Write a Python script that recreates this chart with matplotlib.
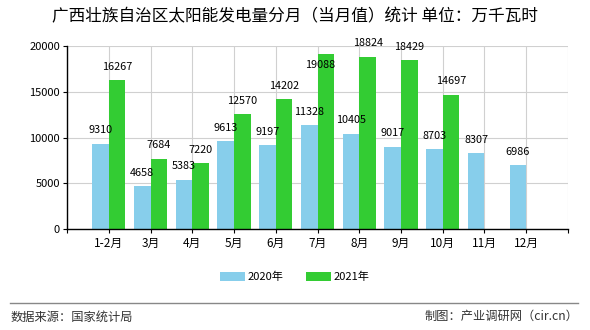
import matplotlib.pyplot as plt
import numpy as np

plt.rcParams['font.family'] = ['Noto Sans CJK SC', 'DejaVu Sans']

# data
months = ['1-2月', '3月', '4月', '5月', '6月', '7月', '8月', '9月', '10月', '11月', '12月']
v2020 = [9310, 4658, 5383, 9613, 9197, 11328, 10405, 9017, 8703, 8307, 6986]
v2021 = [16267, 7684, 7220, 12570, 14202, 19088, 18824, 18429, 14697]
series_names = ['2020年', '2021年']
colors = ['#87CEEB', '#33CC33']

fig = plt.figure(figsize=(5.9, 3.3), dpi=100)
ax = fig.add_axes([0.1136, 0.306, 0.8491, 0.5546])

x = np.arange(len(months))
w = 0.4
b1 = ax.bar(x - w / 2, v2020, w, color=colors[0], label=series_names[0], zorder=2)
b2 = ax.bar(np.arange(len(v2021)) + w / 2, v2021, w, color=colors[1], label=series_names[1], zorder=2)

for bars, vals in ((b1, v2020), (b2, v2021)):
    for bar, v in zip(bars, vals):
        cx = bar.get_x() + bar.get_width() / 2
        if v > 19000:
            # no room above the top of the axis, label sits on the bar
            ax.annotate(f'{v}', (cx, v), xytext=(-4, -4), textcoords='offset points',
                        ha='center', va='top', fontsize=7.8, zorder=3)
        else:
            ax.annotate(f'{v}', (cx, v), xytext=(0, 6), textcoords='offset points',
                        ha='center', va='bottom', fontsize=7.8, zorder=3)

ax.set_xlim(-1, len(months))
ax.set_ylim(0, 20000)
ax.set_yticks(np.arange(0, 20001, 5000))
ax.set_xticks(np.arange(-1, len(months) + 1))
ax.set_xticklabels([''] + months + [''], fontsize=8.5)
ax.tick_params(axis='y', labelsize=8, length=3, pad=2)
ax.tick_params(axis='x', length=3, pad=3)
ax.grid(True, color='#d0d0d0', lw=0.8, zorder=0)
for s in ['top', 'right']:
    ax.spines[s].set_visible(False)
ax.spines['left'].set_linewidth(1)
ax.spines['bottom'].set_linewidth(1)
ax.spines['left'].set_zorder(3)
ax.spines['bottom'].set_zorder(3)

fig.text(0.5, 0.948, '广西壮族自治区太阳能发电量分月（当月值）统计 单位：万千瓦时',
         ha='center', va='center', fontsize=12)

fig.legend(loc='center', bbox_to_anchor=(0.5, 0.16), ncol=2, frameon=False,
           fontsize=8, handlelength=2.2, handleheight=0.8, columnspacing=2.0,
           handletextpad=0.3)

fig.add_artist(plt.Line2D([0.017, 0.98], [0.082, 0.082], color='#888888', lw=1))
fig.text(0.017, 0.04, '数据来源：国家统计局', ha='left', va='center', fontsize=8.8, color='#333333')
fig.text(0.98, 0.04, '制图：产业调研网（cir.cn）', ha='right', va='center', fontsize=8.8, color='#333333')

fig.savefig('out.png', dpi=100)
